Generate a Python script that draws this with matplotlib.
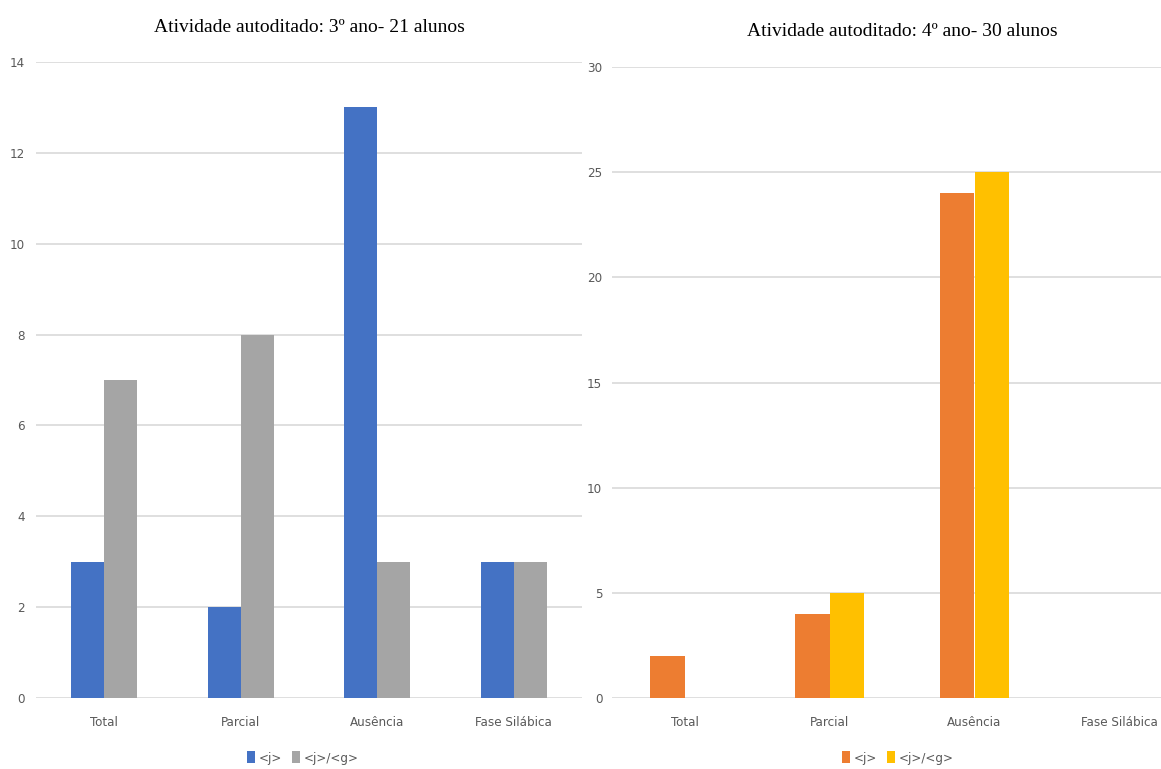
import matplotlib
matplotlib.use("Agg")
import matplotlib.pyplot as plt
from matplotlib.patches import Patch
import numpy as np

categories = ["Total", "Parcial", "Ausência", "Fase Silábica"]

title_3 = "Atividade autoditado: 3º ano- 21 alunos"
j_3 = [3, 2, 13, 3]
jg_3 = [7, 8, 3, 3]

title_4 = "Atividade autoditado: 4º ano- 30 alunos"
j_4 = [2, 4, 24, 0]
jg_4 = [0, 5, 25, 0]

series_names = ["<j>", "<j>/<g>"]

W, H = 1161, 769
fig = plt.figure(figsize=(W / 100, H / 100), dpi=100)
fig.patch.set_facecolor("white")

tick_font = ["DejaVu Sans"]
title_font = ["Liberation Serif", "DejaVu Serif"]
tick_color = "#595959"
grid_color = "#d9d9d9"


def px_axes(x0, x1, ytop, ybot):
    return fig.add_axes([x0 / W, (H - ybot) / H, (x1 - x0) / W, (ybot - ytop) / H])


def style_label(lbl):
    lbl.set_family(tick_font)
    lbl.set_stretch("condensed")
    lbl.set_fontsize(9.5)


def draw_panel(ax, title, a, b, colors, ymax, step, title_y, legend_x, ypad):
    x = np.arange(len(categories))
    bw = 0.24
    ax.bar(x - bw / 2, a, width=bw, color=colors[0], zorder=3)
    ax.bar(x + bw / 2, b, width=bw, color=colors[1], zorder=3)
    ax.set_xlim(-0.5, len(categories) - 0.5)
    ax.set_ylim(0, ymax)
    ax.set_yticks(np.arange(0, ymax + 1, step))
    ax.grid(axis="y", color=grid_color, linewidth=1.2, zorder=0)
    for s in ax.spines.values():
        s.set_visible(False)
    ax.tick_params(axis="both", length=0, colors=tick_color)
    ax.tick_params(axis="y", pad=ypad)
    ax.tick_params(axis="x", pad=13)
    ax.set_xticks(x)
    ax.set_xticklabels(categories)
    for lbl in ax.get_xticklabels() + ax.get_yticklabels():
        style_label(lbl)
    bbox = ax.get_position()
    fig.text((bbox.x0 + bbox.x1) / 2, 1 - title_y / H, title,
             ha="center", va="center", fontsize=14, family=title_font, color="black")
    handles = [Patch(facecolor=colors[0]), Patch(facecolor=colors[1])]
    leg = fig.legend(handles, series_names, loc="center",
                     bbox_to_anchor=(legend_x / W, 1 - 758 / H),
                     ncol=2, frameon=False, handlelength=0.55, handleheight=1.0,
                     handletextpad=0.3, columnspacing=0.8, fontsize=9.5,
                     labelcolor=tick_color)
    for t in leg.get_texts():
        style_label(t)


ax1 = px_axes(36, 582, 62, 698)
draw_panel(ax1, title_3, j_3, jg_3, ["#4472C4", "#A5A5A5"], 14, 2, 27, 303, 8)

ax2 = px_axes(612, 1192, 67, 698)
draw_panel(ax2, title_4, j_4, jg_4, ["#ED7D31", "#FFC000"], 30, 5, 32, 898, 7)

fig.savefig("out.png", dpi=100)
